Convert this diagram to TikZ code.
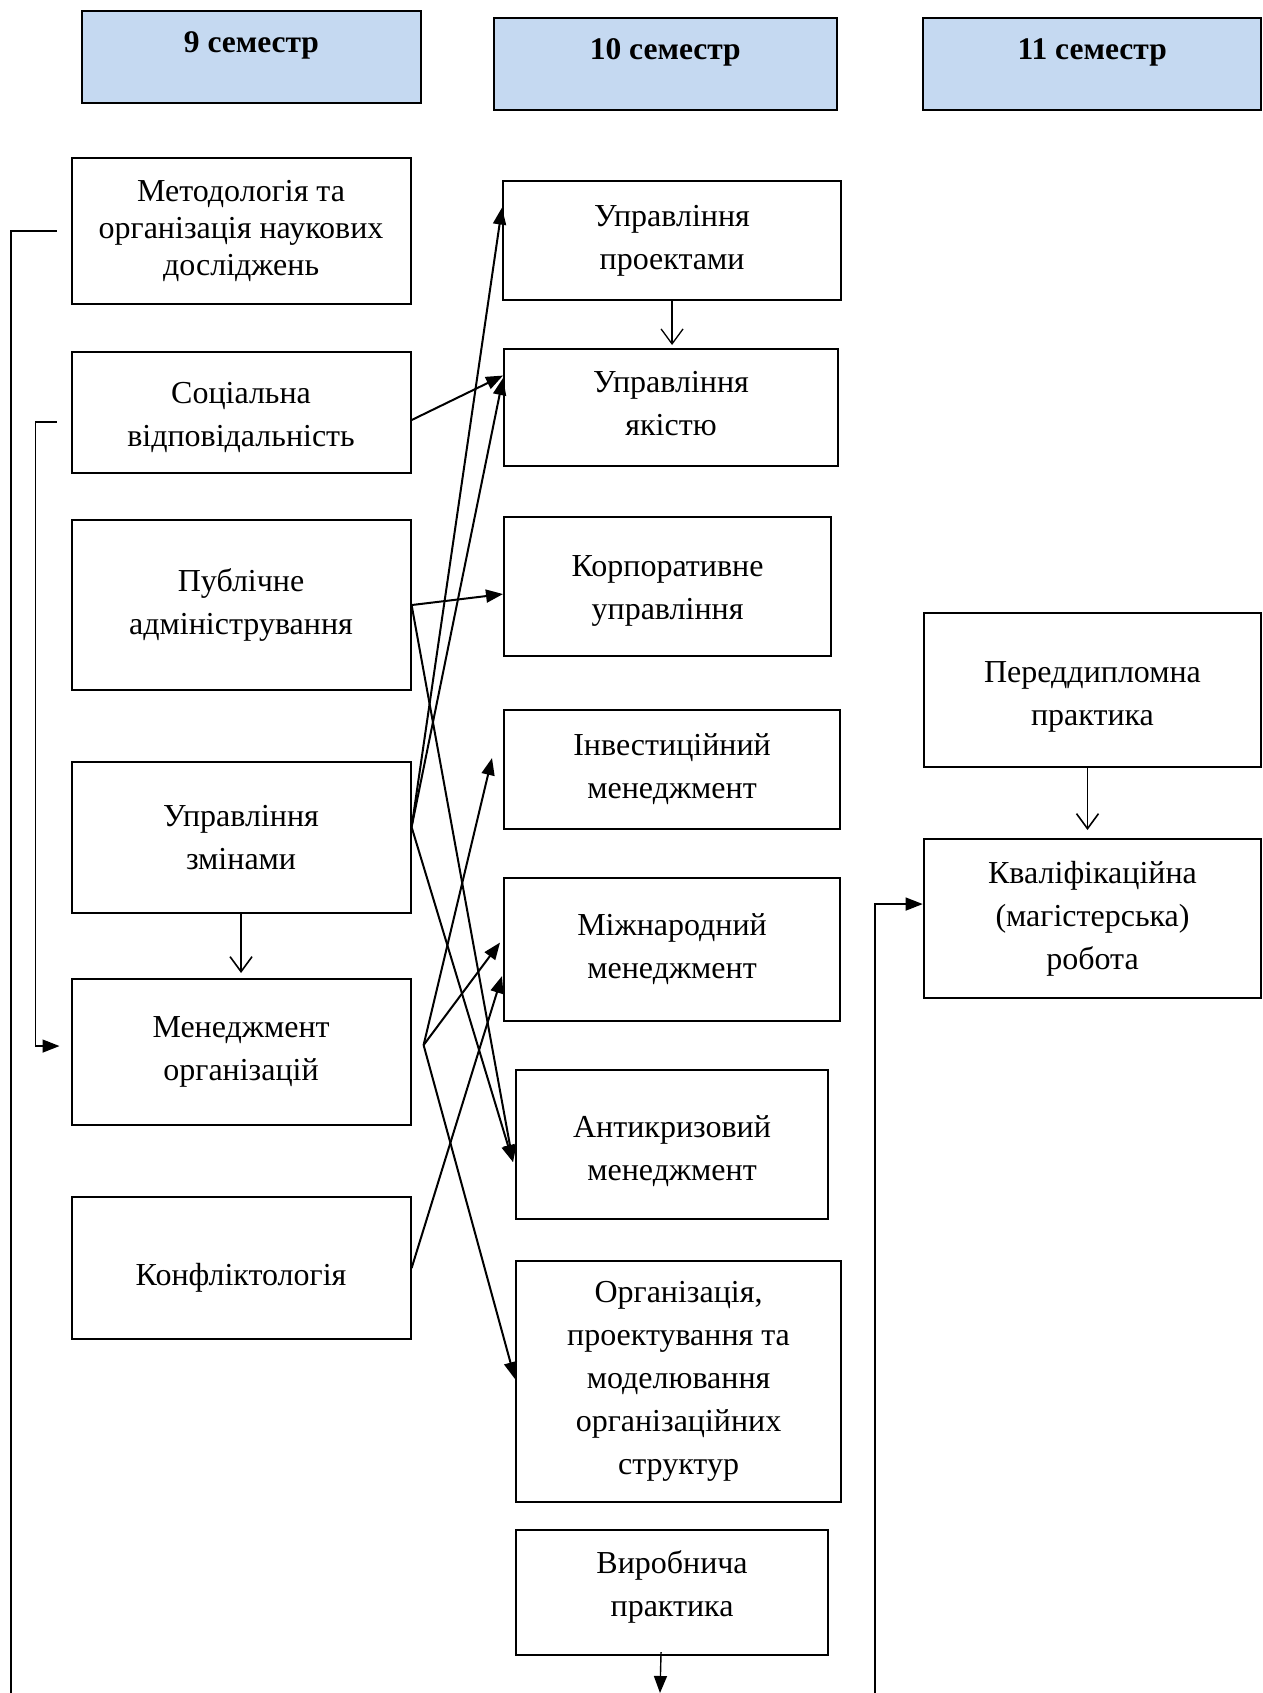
\documentclass[tikz,border=0pt]{standalone}
\usepackage{fontspec}
\setmainfont{Liberation Serif}
\usetikzlibrary{arrows.meta}
\definecolor{semblue}{RGB}{197,217,241}
\newcommand\txtshift[2]{\raisebox{#1}[\height][\depth]{#2}}

\begin{document}
\begin{tikzpicture}[x=1pt,y=-1pt,
    box/.style={draw, line width=2.1pt, anchor=north west, align=center, inner sep=0pt,
        font=\fontsize{32}{43}\selectfont},
    sem/.style={box, fill=semblue, line width=2.4pt, minimum height=92,
        text height=20pt, text depth=30pt, font=\fontsize{31.5}{43}\selectfont\bfseries},
    arr/.style={line width=2pt, -{Triangle[length=17pt,width=13pt]}},
    openarr/.style={line width=1.6pt, -{Straight Barb[length=15pt,width=22pt]}},
    lead/.style={line width=1.4pt}]
    \useasboundingbox (0,0) rectangle (1262,1693);
    \foreach \n/\x/\y/\w in {9/80.5/10/339.5, 10/492.6/17/343, 11/922/17/338}
        \node[sem, minimum width=\w] (sem\n) at (\x,\y) {\n{} семестр};
    % 9 semester
    \node[box, minimum width=339, minimum height=146, font=\fontsize{32}{37}\selectfont]
        (metod) at (70.5,157) {Методологія та\\організація наукових\\досліджень};
    \node[box, minimum width=339, minimum height=121] (soc) at (70.5,351)
        {\txtshift{-4.5pt}{Соціальна}\\\txtshift{-4.5pt}{відповідальність}};
    \node[box, minimum width=339, minimum height=170] (publ) at (70.5,519)
        {Публічне\\адміністрування};
    \node[box, minimum width=339, minimum height=151] (zmin) at (70.5,761)
        {Управління\\змінами};
    \node[box, minimum width=339, minimum height=146] (men) at (70.5,978)
        {Менеджмент\\організацій};
    \node[box, minimum width=339, minimum height=142] (konf) at (70.5,1196)
        {\txtshift{-10pt}{Конфліктологія}};
    % 10 semester
    \node[box, minimum width=338, minimum height=119] (proj) at (502,180)
        {Управління\\проектами};
    \node[box, minimum width=334, minimum height=117] (qual) at (503,348)
        {\txtshift{4pt}{Управління}\\\txtshift{4pt}{якістю}};
    \node[box, minimum width=327, minimum height=139] (corp) at (503,516)
        {\txtshift{-4pt}{Корпоративне}\\\txtshift{-4pt}{управління}};
    \node[box, minimum width=336, minimum height=119] (invest) at (503,709)
        {Інвестиційний\\менеджмент};
    \node[box, minimum width=336, minimum height=143] (intl) at (503,877)
        {Міжнародний\\менеджмент};
    \node[box, minimum width=312, minimum height=149] (crisis) at (515,1069)
        {\txtshift{-7pt}{Антикризовий}\\\txtshift{-7pt}{менеджмент}};
    \node[box, minimum width=325, minimum height=241] (orgstr) at (515,1260)
        {Організація,\\проектування та\\моделювання\\організаційних\\структур};
    \node[box, minimum width=312, minimum height=125] (vyrob) at (515,1529)
        {\txtshift{6pt}{Виробнича}\\\txtshift{6pt}{практика}};
    % 11 semester
    \node[box, minimum width=337.5, minimum height=154] (pered) at (922.7,612)
        {\txtshift{-7pt}{Переддипломна}\\\txtshift{-7pt}{практика}};
    \node[box, minimum width=337.5, minimum height=159] (kval) at (922.7,838)
        {Кваліфікаційна\\(магістерська)\\робота};
    \coordinate (leftEnd) at (11,1693);
    \coordinate (vyrEnd) at (660,1693);
    \coordinate (rightEnd) at (875,1693);
    \draw[lead] ([xshift=-14pt]metod.west) -| (leftEnd);
    \draw[arr, lead] ([xshift=-14pt,yshift=-9.5pt]soc.west) -- ++(-21,0)
        |- ([xshift=-11pt,yshift=6pt]men.west);
    \draw[arr] ([yshift=-7.5pt]soc.east) -- ([yshift=32pt]qual.west);
    \draw[arr] (publ.east) -- ([yshift=-7.5pt]corp.west);
    \draw[arr] (publ.east) -- ([xshift=-2pt,yshift=-17.5pt]crisis.west);
    \draw[arr] ([yshift=10.5pt]zmin.east) -- ([yshift=33pt]proj.west);
    \draw[arr] ([yshift=10.5pt]zmin.east) -- ([yshift=29.5pt]qual.west);
    \draw[arr] ([yshift=10.5pt]zmin.east) -- ([xshift=-2pt,yshift=-17.5pt]crisis.west);
    \draw[openarr] (zmin.south) -- ([yshift=5pt]men.north);
    \draw[arr] ([xshift=12pt,yshift=7pt]men.east) -- ([xshift=-11pt,yshift=11.5pt]invest.west);
    \draw[arr] ([xshift=12pt,yshift=7pt]men.east) -- ([xshift=-3pt,yshift=7pt]intl.west);
    \draw[arr] ([xshift=12pt,yshift=7pt]men.east) -- ([yshift=2.5pt]orgstr.west);
    \draw[arr] (konf.east) -- ([xshift=-1pt,yshift=-26.5pt]intl.west);
    \draw[openarr, line width=1.3pt] (proj.south) -- ([yshift=3pt]proj.south |- qual.north);
    \draw[arr, lead] ([xshift=-11pt,yshift=4pt]vyrob.south) -- (vyrEnd);
    \draw[openarr] ([xshift=-5pt]pered.south) -- ([xshift=-5pt,yshift=8pt]kval.north);
    \draw[arr, lead] (rightEnd) |- ([yshift=14.5pt]kval.west);
\end{tikzpicture}
\end{document}
